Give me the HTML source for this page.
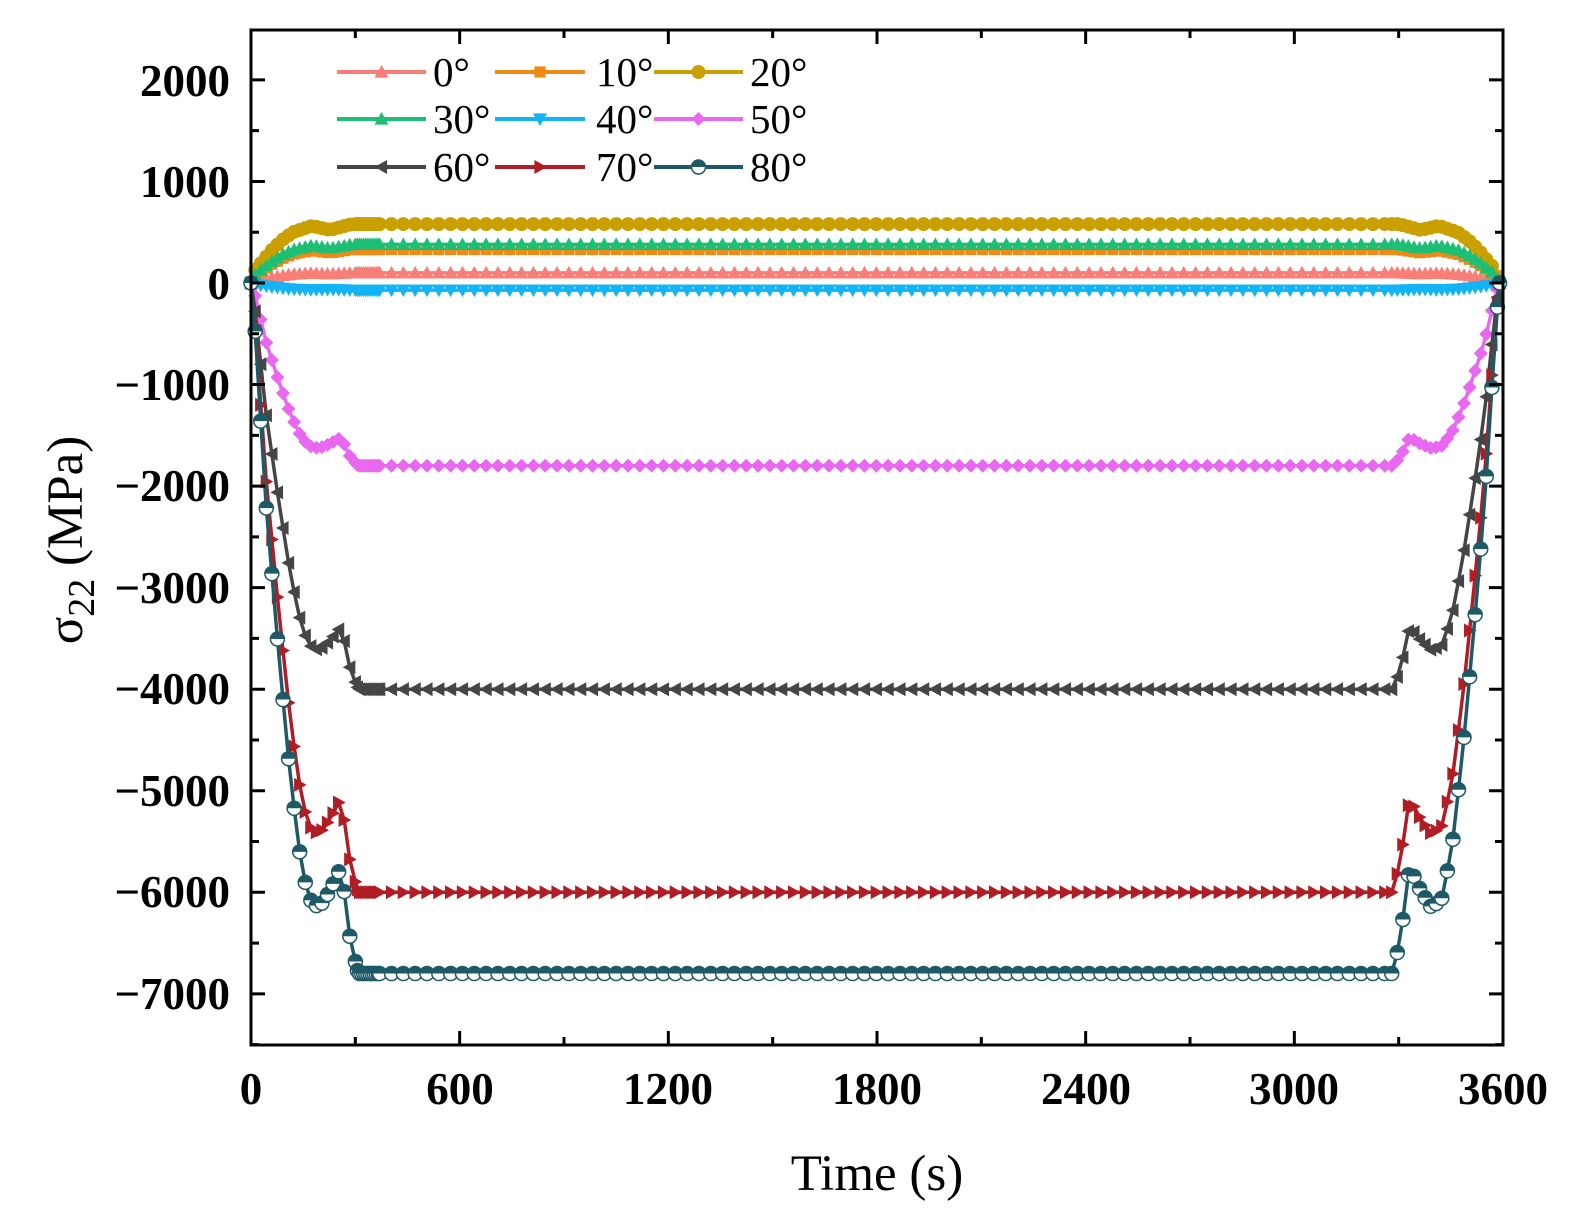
<!DOCTYPE html>
<html><head><meta charset="utf-8"><style>
body{margin:0;background:#fff}
svg{display:block}
.tk{font-family:"Liberation Serif",serif;font-weight:bold;font-size:45px;fill:#000}
.lg{font-family:"Liberation Serif",serif;font-size:41px;fill:#000}
.ax{font-family:"Liberation Serif",serif;font-size:51px;fill:#000}
</style></head><body>
<svg id="s" width="1571" height="1226" viewBox="0 0 1571 1226" xmlns="http://www.w3.org/2000/svg">
<g id="series"></g>
<rect x="251" y="30" width="1252" height="1015" fill="none" stroke="#000" stroke-width="3"/>
<g id="ticks" stroke="#000" stroke-width="3"></g>
<g class="tk" text-anchor="end">
<text x="230" y="96">2000</text><text x="230" y="197">1000</text><text x="230" y="299">0</text>
<text x="230" y="400">−1000</text><text x="230" y="501">−2000</text><text x="230" y="603">−3000</text>
<text x="230" y="704">−4000</text><text x="230" y="806">−5000</text><text x="230" y="907">−6000</text>
<text x="230" y="1009">−7000</text></g>
<g class="tk" text-anchor="middle">
<text x="251" y="1104">0</text><text x="460" y="1104">600</text><text x="668" y="1104">1200</text>
<text x="877" y="1104">1800</text><text x="1086" y="1104">2400</text><text x="1294" y="1104">3000</text>
<text x="1503" y="1104">3600</text></g>
<text class="ax" x="877" y="1190" text-anchor="middle">Time (s)</text>
<text class="ax" transform="translate(82,540) rotate(-90)" text-anchor="middle">σ<tspan font-size="38" dy="12">22</tspan><tspan dy="-12"> (MPa)</tspan></text>
<g id="legend"></g>
<g class="lg">
<text x="433" y="86">0°</text><text x="596" y="86">10°</text><text x="750" y="86">20°</text>
<text x="433" y="133">30°</text><text x="596" y="133">40°</text><text x="750" y="133">50°</text>
<text x="433" y="181">60°</text><text x="596" y="181">70°</text><text x="750" y="181">80°</text>
</g>
</svg>
<script>
var NS="http://www.w3.org/2000/svg";
function X(t){return 251+t*1252/3600}
function Y(v){return 283-v*0.10155}
var tk=document.getElementById('ticks'),d="";
for(var v=-7500;v<=2000;v+=500){var y=Y(v);d+="M251 "+y+"h"+(v%1000==0?14:8)+"M1503 "+y+"h-"+(v%1000==0?14:8);}
for(var t=0;t<=3600;t+=300){var x=X(t);d+="M"+x+" 1045v-"+(t%600==0?14:8)+"M"+x+" 30v"+(t%600==0?14:8);}
var p=document.createElementNS(NS,'path');p.setAttribute('d',d);tk.appendChild(p);
function interp(tt,ts,vs){if(tt<=ts[0])return vs[0]*Math.max(tt,0)/Math.max(ts[0],1);
for(var i=1;i<ts.length;i++){if(tt<=ts[i]){var f=(tt-ts[i-1])/(ts[i]-ts[i-1]);return vs[i-1]+f*(vs[i]-vs[i-1]);}}return 1;}
var prof=[0.07,0.2,0.32,0.51,0.68,0.81,0.89,0.905,0.88,0.845,0.95,1];
var ptimes=[12,28,43,75,106,135,164,195,227,259,285,308];
function P(t){var tt=t>1800?3600-t-10:t;return interp(tt,ptimes,prof);}
var pp=[0.22,0.56,0.73,0.86,0.97,0.93,0.9,1],pt=[12,60,90,120,175,205,227,290];
function Ppos(t){var tt=t>1800?3600-t-10:t;return interp(tt,pt,pp);}
var S=[
["#f87e78",100,"tri",1],["#f08a17",330,"sq",1],["#c9a000",580,"ci",1],
["#1cbf74",380,"tri",1],["#13b4f5",-70,"dtri",1],["#e868f0",-1800,"dia",0],
["#454545",-4000,"ltri",0],["#b01d24",-6000,"rtri",0],["#1e5a66",-6800,"hci",0]];
function marker(type,x,y,c){var r=7,e;
if(type=="ci"){e=document.createElementNS(NS,'circle');e.setAttribute('cx',x);e.setAttribute('cy',y);e.setAttribute('r',r);e.setAttribute('fill',c);return e;}
if(type=="hci"){e=document.createElementNS(NS,'g');
var c1=document.createElementNS(NS,'circle');c1.setAttribute('cx',x);c1.setAttribute('cy',y);c1.setAttribute('r',r);c1.setAttribute('fill','#fff');c1.setAttribute('stroke',c);c1.setAttribute('stroke-width',1.5);e.appendChild(c1);
var h=document.createElementNS(NS,'path');h.setAttribute('d','M'+(x-r)+' '+y+'A'+r+' '+r+' 0 0 1 '+(x+r)+' '+y+'Z');h.setAttribute('fill',c);e.appendChild(h);return e;}
var pts;
if(type=="tri")pts=[[0,-r],[r,r*0.8],[-r,r*0.8]];
if(type=="dtri")pts=[[0,r],[r,-r*0.8],[-r,-r*0.8]];
if(type=="ltri")pts=[[-r,0],[r*0.8,-r],[r*0.8,r]];
if(type=="rtri")pts=[[r,0],[-r*0.8,-r],[-r*0.8,r]];
if(type=="sq")pts=[[-r*0.8,-r*0.8],[r*0.8,-r*0.8],[r*0.8,r*0.8],[-r*0.8,r*0.8]];
if(type=="dia")pts=[[0,-r],[r,0],[0,r],[-r,0]];
e=document.createElementNS(NS,'polygon');e.setAttribute('points',pts.map(function(q){return (x+q[0])+","+(y+q[1])}).join(" "));e.setAttribute('fill',c);return e;}
var g=document.getElementById('series');
S.forEach(function(s){var times=[0];for(var t=12;t<300;t+=16)times.push(t);
for(t=300;t<370;t+=6)times.push(t);for(t=370;t<3280;t+=34)times.push(t);for(t=3280;t<3590;t+=16)times.push(t);times.push(3590);
var pts=times.map(function(t){var f=s[3]?Ppos(t):P(t);return [X(t),Y(s[1]*f)]});
var pl=document.createElementNS(NS,'polyline');pl.setAttribute('points',pts.map(function(q){return q.join(",")}).join(" "));
pl.setAttribute('fill','none');pl.setAttribute('stroke',s[0]);pl.setAttribute('stroke-width',3.5);g.appendChild(pl);
pts.forEach(function(q){g.appendChild(marker(s[2],q[0],q[1],s[0]));});});
var lg=document.getElementById('legend');
var cols=[[337,426],[495,585],[654,743]],rows=[72,119,167];
S.forEach(function(s,i){var c=cols[i%3],y=rows[Math.floor(i/3)];
var l=document.createElementNS(NS,'line');l.setAttribute('x1',c[0]);l.setAttribute('x2',c[1]);l.setAttribute('y1',y);l.setAttribute('y2',y);l.setAttribute('stroke',s[0]);l.setAttribute('stroke-width',4);lg.appendChild(l);
lg.appendChild(marker(s[2],(c[0]+c[1])/2,y,s[0]));});
</script>
</body></html>
